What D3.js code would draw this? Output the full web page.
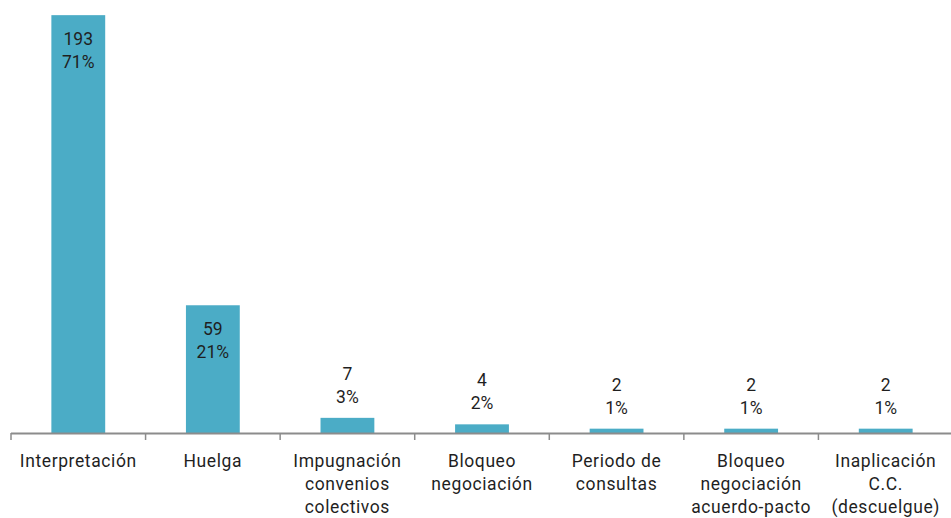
<!DOCTYPE html>
<html><head><meta charset="utf-8">
<script src="https://cdn.jsdelivr.net/npm/d3@7"></script>
<style>body{margin:0;background:#fff}svg{display:block}text{font-family:Roboto,sans-serif;fill:#1f1f1f}</style>
</head><body><div id="chart"></div>
<script>
const categories = [["Interpretación"],["Huelga"],["Impugnación","convenios","colectivos"],["Bloqueo","negociación"],["Periodo de","consultas"],["Bloqueo","negociación","acuerdo-pacto"],["Inaplicación","C.C.","(descuelgue)"]];
const values = [193, 59, 7, 4, 2, 2, 2];
const percents = ["71%", "21%", "3%", "2%", "1%", "1%", "1%"];

const W = 951, H = 518;
const svg = d3.select("#chart").append("svg").attr("width", W).attr("height", H);
const x = d3.scaleBand().domain(d3.range(values.length)).range([11, 953]).paddingInner(0.6).paddingOuter(0.3);
const y = d3.scaleLinear().domain([0, 200]).range([433, 0]);

svg.selectAll("rect.bar").data(values).enter().append("rect")
  .attr("x", (d,i)=>x(i)).attr("width", x.bandwidth())
  .attr("y", d=>y(d)).attr("height", d=>y(0)-y(d)).attr("fill", "#4BACC6");

// axis
const step = x.step();
svg.append("line").attr("x1", 11).attr("x2", W).attr("y1", 433.5).attr("y2", 433.5).attr("stroke", "#8c8c8c").attr("stroke-width", 2);
d3.range(values.length).forEach(i=>{
  const tx = 11 + i*step;
  svg.append("line").attr("x1", tx).attr("x2", tx).attr("y1", 433).attr("y2", 440).attr("stroke", "#8c8c8c").attr("stroke-width", 1.5);
});

// value labels
values.forEach((v,i)=>{
  const cx = x(i) + x.bandwidth()/2;
  const inside = (y(0)-y(v)) > 60;
  const b1 = inside ? y(v)+30 : y(v)-38;
  svg.append("text").attr("x", cx).attr("y", b1).attr("text-anchor","middle").attr("font-size",17.5).text(v);
  svg.append("text").attr("x", cx).attr("y", b1+23).attr("text-anchor","middle").attr("font-size",17.5).text(percents[i]);
});

// category labels
categories.forEach((lines,i)=>{
  const cx = x(i) + x.bandwidth()/2;
  const t = svg.append("text").attr("x", cx).attr("y", 467).attr("text-anchor","middle").attr("font-size",17.5).attr("letter-spacing","0.6px");
  lines.forEach((l,j)=>t.append("tspan").attr("x", cx).attr("y", 467 + j*23).text(l));
});
</script></body></html>
